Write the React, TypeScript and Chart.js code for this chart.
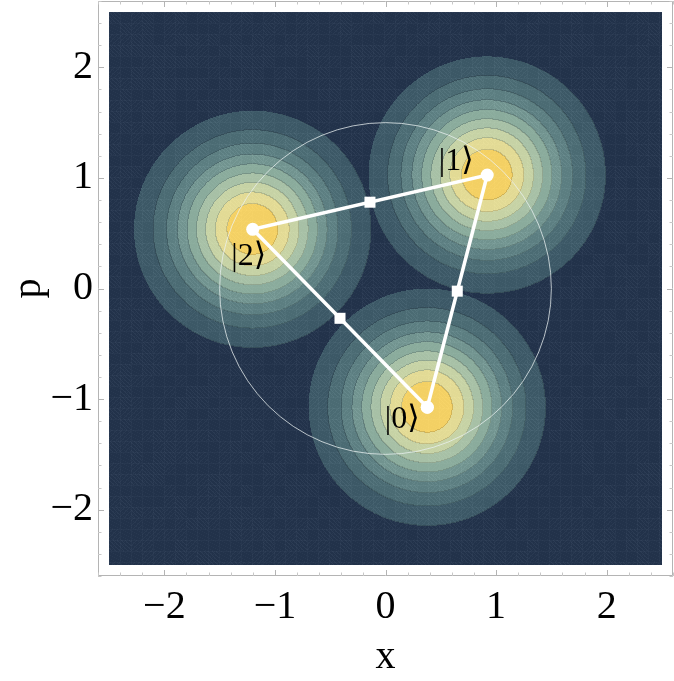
import React, { useEffect, useRef } from "react";
import { Chart, registerables } from "chart.js";

Chart.register(...registerables);

// ---- data ----
const stateNames = ["|0⟩", "|1⟩", "|2⟩"];
const stateX = [0.378, 0.92, -1.201];
const stateP = [-1.074, 1.026, 0.535];
const gaussSigma = 0.5;
const contourLevels = [0.1, 0.2, 0.3, 0.4, 0.5, 0.6, 0.7, 0.8, 0.9];
const bandColors = [
  "#22324a",
  "#3c5866",
  "#4b6b73",
  "#5c7e81",
  "#71938f",
  "#8aab9c",
  "#a7c0a6",
  "#c6d2a5",
  "#e2da95",
  "#f3d064",
];
const circleRadius = 1.5;
const fieldMin = -2.5;
const fieldMax = 2.5;
const axisMin = -2.6;
const axisMax = 2.6;
const majorTicks = [-2, -1, 0, 1, 2];
const tickLabels = ["−2", "−1", "0", "1", "2"];
const minorTicks = [
  -2.6, -2.4, -2.2, -1.8, -1.6, -1.4, -1.2, -0.8, -0.6, -0.4, -0.2, 0.2, 0.4,
  0.6, 0.8, 1.2, 1.4, 1.6, 1.8, 2.2, 2.4, 2.6,
];
// label offsets in px relative to each state point
const labelDX = [-25, -31, -4];
const labelDY = [12, -13, 27];

const SERIF = "'Liberation Serif', 'DejaVu Serif', serif";

function hexToRgb(h: string) {
  const n = parseInt(h.slice(1), 16);
  return [(n >> 16) & 255, (n >> 8) & 255, n & 255];
}

function texture(i: number, j: number) {
  // faint mesh-like rendering texture
  let t = 0;
  if (i % 11 === 0 || j % 11 === 0) t += 5;
  const ci = Math.floor(i / 11);
  const cj = Math.floor(j / 11);
  const hsh = ((ci * 73856093) ^ (cj * 19349663)) >>> 0;
  const m = hsh % 3;
  if (m === 0 && (i - j) % 4 === 0) t += 10;
  else if (m === 1 && (i + j) % 5 === 0) t += 8;
  else if ((i - 2 * j) % 7 === 0) t += 6;
  return t;
}

const fieldPlugin = {
  id: "field",
  beforeDatasetsDraw(chart: any) {
    const { ctx, scales } = chart;
    const xs = scales.x;
    const ys = scales.y;
    const x0 = Math.round(xs.getPixelForValue(fieldMin));
    const x1 = Math.round(xs.getPixelForValue(fieldMax));
    const y0 = Math.round(ys.getPixelForValue(fieldMax));
    const y1 = Math.round(ys.getPixelForValue(fieldMin));
    const w = x1 - x0;
    const h = y1 - y0;
    const img = ctx.createImageData(w, h);
    const band = new Int8Array(w * h);
    const cols = bandColors.map(hexToRgb);
    const s2 = 2 * gaussSigma * gaussSigma;
    for (let j = 0; j < h; j++) {
      const pv = ys.getValueForPixel(y0 + j + 0.5);
      for (let i = 0; i < w; i++) {
        const xv = xs.getValueForPixel(x0 + i + 0.5);
        let f = 0;
        for (let k = 0; k < stateX.length; k++) {
          const dx = xv - stateX[k];
          const dy = pv - stateP[k];
          const g = Math.exp(-(dx * dx + dy * dy) / s2);
          if (g > f) f = g;
        }
        let b = 0;
        for (let l = 0; l < contourLevels.length; l++) if (f >= contourLevels[l]) b = l + 1;
        band[j * w + i] = b;
      }
    }
    for (let j = 0; j < h; j++) {
      for (let i = 0; i < w; i++) {
        const idx = j * w + i;
        const b = band[idx];
        const c = cols[b];
        let edge = false;
        if (i + 1 < w && band[idx + 1] !== b) edge = true;
        if (j + 1 < h && band[idx + w] !== b) edge = true;
        const fac = edge && b > 0 ? 0.86 : 1;
        const t = texture(i, j) * (b < 5 ? 1 : 0.4);
        img.data[idx * 4] = Math.min(255, c[0] * fac + t);
        img.data[idx * 4 + 1] = Math.min(255, c[1] * fac + t);
        img.data[idx * 4 + 2] = Math.min(255, c[2] * fac + t);
        img.data[idx * 4 + 3] = 255;
      }
    }
    ctx.putImageData(img, x0, y0);

    // circle
    const cx = xs.getPixelForValue(0);
    const cy = ys.getPixelForValue(0);
    const r = xs.getPixelForValue(circleRadius) - cx;
    ctx.save();
    ctx.beginPath();
    ctx.arc(cx, cy, r, 0, Math.PI * 2);
    ctx.strokeStyle = "rgba(235,242,242,0.75)";
    ctx.lineWidth = 1;
    ctx.stroke();
    ctx.restore();
  },
  afterDatasetsDraw(chart: any) {
    const { ctx, scales } = chart;
    const xs = scales.x;
    const ys = scales.y;
    ctx.save();
    ctx.fillStyle = "#000";
    ctx.font = `32px ${SERIF}`;
    ctx.textAlign = "center";
    ctx.textBaseline = "middle";
    for (let k = 0; k < stateNames.length; k++) {
      const px = xs.getPixelForValue(stateX[k]) + labelDX[k];
      const py = ys.getPixelForValue(stateP[k]) + labelDY[k];
      ctx.fillText(stateNames[k], px, py);
    }
    ctx.restore();
  },
  afterDraw(chart: any) {
    const { ctx, chartArea, scales } = chart;
    const xs = scales.x;
    const ys = scales.y;
    const { left, right, top, bottom } = chartArea;
    ctx.save();
    ctx.strokeStyle = "#b4b4b4";
    ctx.lineWidth = 1;
    ctx.beginPath();
    ctx.rect(left + 0.5, top + 0.5, right - left - 1, bottom - top - 1);
    ctx.stroke();
    const drawTicks = (vals: number[], len: number) => {
      ctx.beginPath();
      for (const v of vals) {
        const px = Math.round(xs.getPixelForValue(v)) + 0.5;
        ctx.moveTo(px, bottom);
        ctx.lineTo(px, bottom - len);
        ctx.moveTo(px, top);
        ctx.lineTo(px, top + len);
        const py = Math.round(ys.getPixelForValue(v)) + 0.5;
        ctx.moveTo(left, py);
        ctx.lineTo(left + len, py);
        ctx.moveTo(right, py);
        ctx.lineTo(right - len, py);
      }
      ctx.stroke();
    };
    drawTicks(majorTicks, 6);
    ctx.strokeStyle = "#c8c8c8";
    drawTicks(minorTicks, 3.5);
    ctx.restore();
  },
};

export default function App() {
  const ref = useRef<HTMLCanvasElement>(null);
  useEffect(() => {
    if (!ref.current) return;
    const tri = [0, 1, 2, 0].map((i) => ({ x: stateX[i], y: stateP[i] }));
    const mids = [0, 1, 2].map((i) => {
      const j = (i + 1) % 3;
      return { x: (stateX[i] + stateX[j]) / 2, y: (stateP[i] + stateP[j]) / 2 };
    });
    const tickCb = (v: any) => {
      const i = majorTicks.indexOf(Number(v));
      return i >= 0 ? tickLabels[i] : "";
    };
    const setTicks = (s: any) => {
      s.ticks = majorTicks.map((v) => ({ value: v }));
    };
    const chart = new Chart(ref.current, {
      type: "scatter",
      data: {
        datasets: [
          {
            data: mids,
            pointStyle: "rect",
            pointRadius: 7.8,
            pointBackgroundColor: "#ffffff",
            pointBorderWidth: 0,
            showLine: false,
          } as any,
          {
            data: tri,
            showLine: true,
            borderColor: "#ffffff",
            borderWidth: 3.5,
            pointRadius: 6.5,
            pointBackgroundColor: "#ffffff",
            pointBorderWidth: 0,
          } as any,
        ],
      },
      options: {
        animation: false,
        responsive: false,
        events: [],
        layout: { autoPadding: false, padding: { left: 0, right: 1, top: 1, bottom: 0 } },
        plugins: { legend: { display: false }, tooltip: { enabled: false } },
        scales: {
          x: {
            type: "linear",
            min: axisMin,
            max: axisMax,
            grid: { display: false, drawTicks: false },
            border: { display: false },
            afterBuildTicks: setTicks,
            afterFit: (s: any) => {
              s.height = 105;
              s.paddingLeft = 0;
              s.paddingRight = 0;
            },
            ticks: {
              callback: tickCb,
              color: "#000",
              padding: 7,
              font: { family: SERIF, size: 40 },
              maxRotation: 0,
            },
            title: {
              display: true,
              text: "x",
              color: "#000",
              font: { family: SERIF, size: 40 },
              padding: { top: 0, bottom: 0 },
            },
          },
          y: {
            type: "linear",
            min: axisMin,
            max: axisMax,
            grid: { display: false, drawTicks: false },
            border: { display: false },
            afterBuildTicks: setTicks,
            afterFit: (s: any) => {
              s.width = 98;
              s.paddingTop = 0;
              s.paddingBottom = 0;
            },
            ticks: {
              callback: tickCb,
              color: "#000",
              padding: 5,
              font: { family: SERIF, size: 40 },
            },
            title: {
              display: true,
              text: "p",
              color: "#000",
              font: { family: SERIF, size: 40 },
              padding: { top: 5, bottom: 0 },
            },
          },
        },
      },
      plugins: [fieldPlugin],
    });
    return () => chart.destroy();
  }, []);
  return (
    <div style={{ position: "absolute", left: 0, top: 0, width: 674, height: 681, background: "#fff" }}>
      <canvas ref={ref} width={674} height={681} style={{ display: "block" }} />
    </div>
  );
}
